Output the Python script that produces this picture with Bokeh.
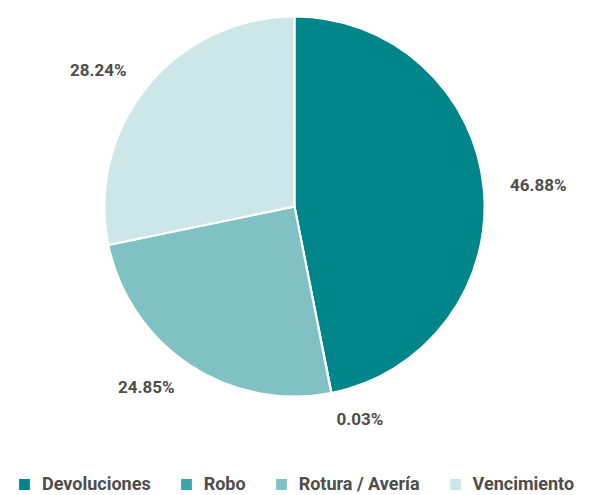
import math
from bokeh.plotting import figure
from bokeh.models import Range1d, Legend, LegendItem, ColumnDataSource
from bokeh.core.properties import value
from bokeh.embed import file_html
from bokeh.resources import INLINE

categories = ["Devoluciones", "Robo", "Rotura / Avería", "Vencimiento"]
values = [46.88, 0.03, 24.85, 28.24]
labels = ["46.88%", "0.03%", "24.85%", "28.24%"]
colors = ["#00868a", "#3aa5a7", "#80c2c4", "#cde7e8"]

FONT = "Roboto"

total = sum(values)
starts, ends, lx, ly, align = [], [], [], [], []
cum = 0.0
R = 190
LR = 1.14 * R
for v in values:
    a0 = math.pi / 2 - cum / total * 2 * math.pi
    cum += v
    a1 = math.pi / 2 - cum / total * 2 * math.pi
    starts.append(a0)
    ends.append(a1)
    mid = (a0 + a1) / 2
    lx.append(LR * math.cos(mid))
    ly.append(LR * math.sin(mid))
    align.append("left" if math.cos(mid) >= 0 else "right")

src = ColumnDataSource(dict(start=starts, end=ends, color=colors, cat=categories,
                            lx=lx, ly=ly, label=labels, align=align))

p = figure(width=597, height=495, output_backend="svg", toolbar_location=None,
           x_range=Range1d(-294, 303), y_range=Range1d(-289, 206),
           min_border=0)
p.axis.visible = False
p.grid.visible = False
p.outline_line_color = None

r = p.wedge(x=0, y=0, radius=R, start_angle="start", end_angle="end", direction="clock",
            fill_color="color", line_color="white", line_width=2, source=src)

p.text(x="lx", y="ly", text="label", source=src, text_align="align", text_baseline="middle",
       text_font=value(FONT), text_font_style="bold", text_font_size="17px", text_color="#4d4d4d")

items = [LegendItem(label=c, renderers=[r], index=i) for i, c in enumerate(categories)]
legend = Legend(items=items, orientation="horizontal", location=(16, 1),
                glyph_width=16, glyph_height=16, label_text_font=FONT,
                label_text_font_style="bold", label_text_font_size="18px",
                label_text_color="#4d4d4d", spacing=27, label_standoff=10,
                border_line_color=None, background_fill_alpha=0, padding=0, margin=0)
p.add_layout(legend)

open("out.html", "w").write(file_html(p, INLINE))
